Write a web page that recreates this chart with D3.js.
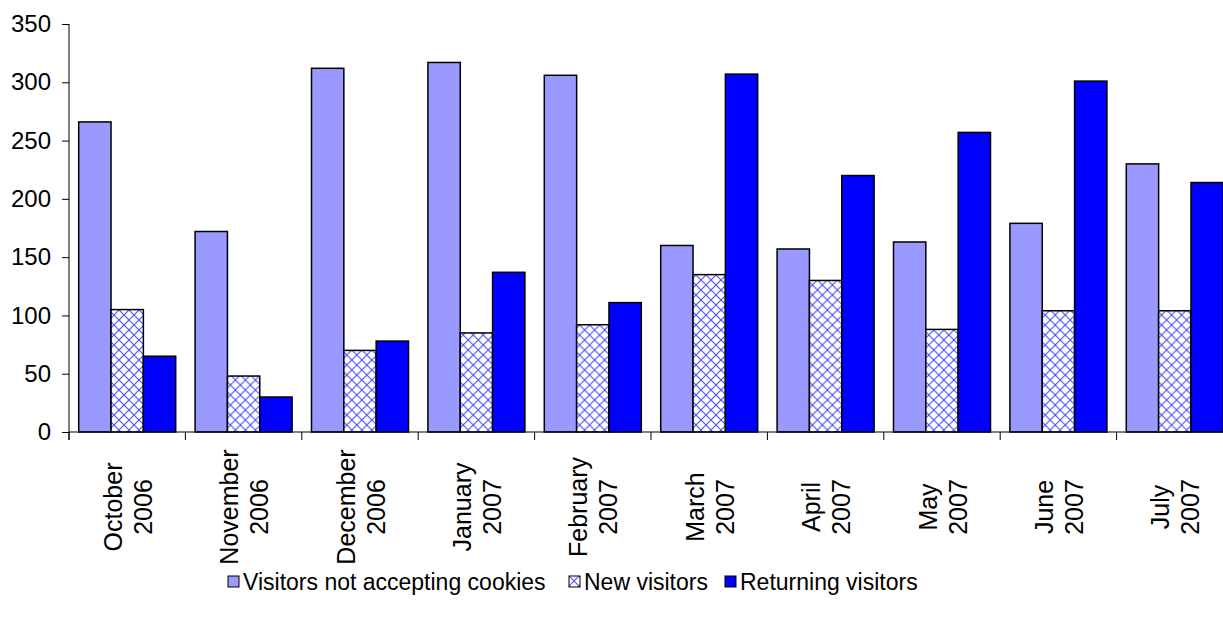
<!DOCTYPE html>
<html>
<head>
<meta charset="utf-8">
<script src="https://cdn.jsdelivr.net/npm/d3@7"></script>
<style>
  body { margin: 0; background: #fff; }
  svg { display: block; font-family: "Liberation Sans", Arial, sans-serif; }
</style>
</head>
<body>
<div id="chart"></div>
<script>
// data
const months = ["October", "November", "December", "January", "February",
                "March", "April", "May", "June", "July"];
const years = ["2006", "2006", "2006", "2007", "2007",
               "2007", "2007", "2007", "2007", "2007"];
const series = ["Visitors not accepting cookies", "New visitors", "Returning visitors"];
const notAccepting = [266, 172, 312, 317, 306, 160, 157, 163, 179, 230];
const newVisitors = [105, 48, 70, 85, 92, 135, 130, 88, 104, 104];
const returning = [65, 30, 78, 137, 111, 307, 220, 257, 301, 214];
const yTicks = [0, 50, 100, 150, 200, 250, 300, 350];

const width = 1223, height = 624;
const plotLeft = 69, plotTop = 24, plotBottom = 432;
const band = 116.4;

const svg = d3.select('#chart').append('svg')
    .attr('width', width)
    .attr('height', height);

// crosshatch for the new visitors
const defs = svg.append('defs');
const pat = defs.append('pattern')
    .attr('id', 'hatch')
    .attr('patternUnits', 'userSpaceOnUse')
    .attr('width', 10)
    .attr('height', 10);
pat.append('rect').attr('width', 10).attr('height', 10).attr('fill', '#fff');
pat.append('path')
    .attr('d', 'M0,0L10,10M10,0L0,10M-1,9L1,11M9,-1L11,1')
    .attr('stroke', '#4d4dff')
    .attr('stroke-width', 1.1);

const colors = ['#9999ff', 'url(#hatch)', '#0000ff'];
const values = [notAccepting, newVisitors, returning];

const x0 = d3.scaleBand()
    .domain(months)
    .range([plotLeft, plotLeft + band * months.length]);

const x1 = d3.scaleBand()
    .domain(series)
    .range([band * 0.0833, band * 0.9167]);

const y = d3.scaleLinear()
    .domain([0, 350])
    .range([plotBottom, plotTop]);

// bars
const groups = svg.selectAll('.month')
    .data(months)
    .enter()
    .append('g')
    .attr('class', 'month')
    .attr('transform', d => `translate(${x0(d)},0)`);

groups.selectAll('rect')
    .data((m, i) => series.map((s, j) => ({ s, j, v: values[j][i] })))
    .enter()
    .append('rect')
    .attr('x', d => x1(d.s))
    .attr('y', d => y(d.v))
    .attr('width', x1.bandwidth())
    .attr('height', d => plotBottom - y(d.v))
    .attr('fill', d => colors[d.j])
    .attr('stroke', '#000')
    .attr('stroke-width', 1.5);

// y axis
const yAxis = d3.axisLeft(y)
    .tickValues(yTicks)
    .tickSize(7)
    .tickPadding(11);

svg.append('g')
    .attr('transform', `translate(${plotLeft},0)`)
    .call(yAxis)
    .call(g => g.select('.domain').attr('d', `M0,${plotTop}V${plotBottom + 8}`))
    .call(g => g.selectAll('text').style('font-size', '24px').attr('fill', '#000'));

// x axis: line plus boundary ticks
const xg = svg.append('g');
xg.append('line')
    .attr('x1', plotLeft).attr('x2', plotLeft + band * months.length)
    .attr('y1', plotBottom).attr('y2', plotBottom)
    .attr('stroke', '#000');
xg.selectAll('.xtick')
    .data(months)
    .enter()
    .append('line')
    .attr('x1', d => x0(d)).attr('x2', d => x0(d))
    .attr('y1', plotBottom).attr('y2', plotBottom + 8)
    .attr('stroke', '#000');

const labels = xg.selectAll('.xlabel')
    .data(months)
    .enter()
    .append('text')
    .attr('transform', d => `translate(${x0(d) + band / 2},507) rotate(-90)`)
    .attr('text-anchor', 'middle')
    .style('font-size', '25px');
labels.append('tspan')
    .attr('x', 0)
    .attr('dy', -5.5)
    .text(d => d);
labels.append('tspan')
    .attr('x', 0)
    .attr('dy', 30)
    .text((d, i) => years[i]);

// legend
const legendX = [228, 569, 725];
const legend = svg.selectAll('.legend')
    .data(series)
    .enter()
    .append('g')
    .attr('transform', (d, i) => `translate(${legendX[i]},576)`);
legend.append('rect')
    .attr('width', 11)
    .attr('height', 11)
    .attr('fill', (d, i) => colors[i])
    .attr('stroke', '#000');
legend.append('text')
    .attr('x', 15)
    .attr('y', 14)
    .style('font-size', '23px')
    .text(d => d);
</script>
</body>
</html>
